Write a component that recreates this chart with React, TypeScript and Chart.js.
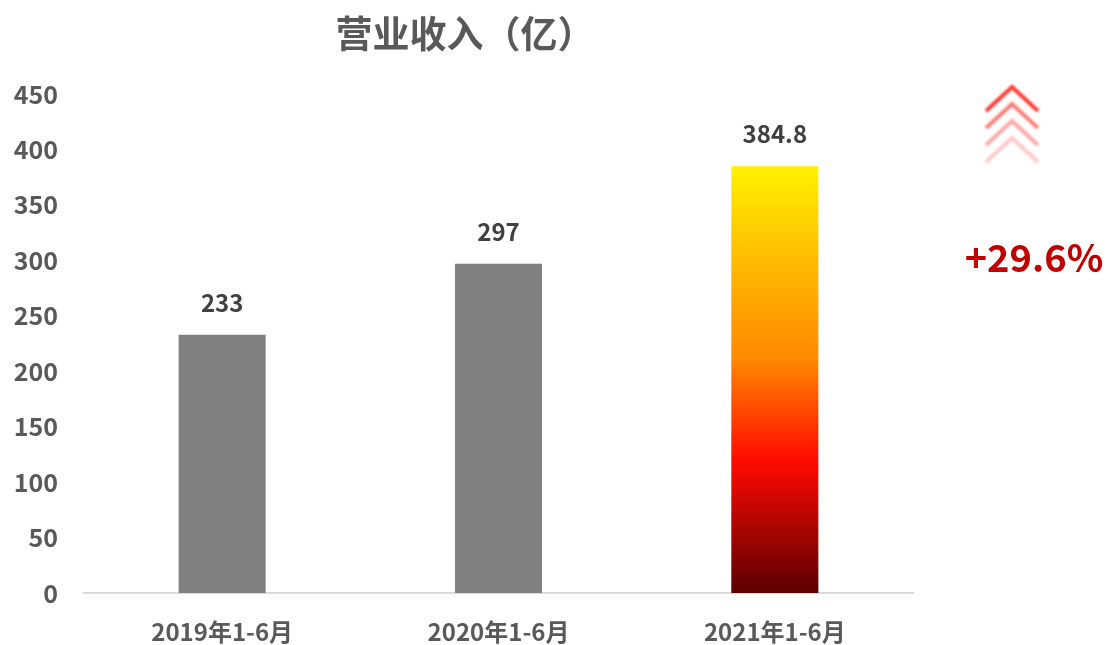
import React, { useEffect, useRef } from "react";
import { Chart, registerables } from "chart.js";

Chart.register(...registerables);

const categories = ["2019年1-6月", "2020年1-6月", "2021年1-6月"];
const revenue = [233, 297, 384.8];
const valueLabels = ["233", "297", "384.8"];
const titleText = "营业收入（亿）";
const growthText = "+29.6%";
const yTicks = [0, 50, 100, 150, 200, 250, 300, 350, 400, 450];

const FONT = '"Noto Sans CJK SC", "Noto Sans", sans-serif';

export default function App() {
  const ref = useRef<HTMLCanvasElement>(null);

  useEffect(() => {
    const canvas = ref.current!;
    const overlay = {
      id: "overlay",
      afterDatasetsDraw(chart: any) {
        const ctx = chart.ctx;
        const meta = chart.getDatasetMeta(0);
        ctx.save();
        ctx.font = `bold 24px ${FONT}`;
        ctx.fillStyle = "#404040";
        ctx.textAlign = "center";
        ctx.textBaseline = "middle";
        meta.data.forEach((bar: any, i: number) => {
          ctx.fillText(valueLabels[i], bar.x, bar.y - 32);
        });
        // title
        ctx.font = `bold 37px ${FONT}`;
        ctx.fillStyle = "#595959";
        ctx.fillText(titleText, 465, 34);
        // growth
        ctx.font = `bold 38px ${FONT}`;
        ctx.fillStyle = "#c00000";
        ctx.fillText(growthText, 1034, 258);
        // chevrons
        const alphas = [0.9, 0.6, 0.4, 0.25];
        ctx.lineWidth = 4;
        ctx.lineCap = "butt";
        ctx.lineJoin = "miter";
        (ctx as any).filter = "blur(0.8px)";
        alphas.forEach((a, k) => {
          const ay = 87 + k * 17;
          ctx.strokeStyle = `rgba(255,40,30,${a})`;
          ctx.beginPath();
          ctx.moveTo(986, ay + 24);
          ctx.lineTo(1012, ay);
          ctx.lineTo(1038, ay + 24);
          ctx.stroke();
        });
        (ctx as any).filter = "none";
        ctx.restore();
      },
    };

    const chart = new Chart(canvas, {
      type: "bar",
      data: {
        labels: categories,
        datasets: [
          {
            data: revenue,
            barPercentage: 0.315,
            categoryPercentage: 1,
            backgroundColor: (c: any) => {
              const ch = c.chart;
              const area = ch.chartArea;
              if (c.dataIndex !== 2 || !area) return "#808080";
              const ys = ch.scales.y;
              const top = ys.getPixelForValue(revenue[2]);
              const bottom = ys.getPixelForValue(0);
              const g = ch.ctx.createLinearGradient(0, top, 0, bottom);
              g.addColorStop(0, "#fff200");
              g.addColorStop(0.25, "#ffb400");
              g.addColorStop(0.45, "#ff8a00");
              g.addColorStop(0.69, "#ff0a00");
              g.addColorStop(1, "#5a0000");
              return g;
            },
          },
        ],
      },
      options: {
        responsive: false,
        animation: false,
        layout: { padding: { top: 94, right: 199, left: 0, bottom: 0 } },
        plugins: { legend: { display: false }, tooltip: { enabled: false }, title: { display: false } },
        scales: {
          x: {
            grid: { display: false, drawTicks: false },
            border: { display: true, color: "#d9d9d9", width: 2 },
            ticks: { font: { family: FONT, size: 24, weight: "bold" }, color: "#595959", padding: 24 },
            afterFit: (s: any) => { s.height = 52; },
          },
          y: {
            min: 0,
            max: 450,
            afterBuildTicks: (s: any) => { s.ticks = yTicks.map((v) => ({ value: v })); },
            grid: { display: false, drawTicks: false },
            border: { display: false },
            ticks: { font: { family: FONT, size: 25, weight: "bold" }, color: "#595959", padding: 26 },
            afterFit: (s: any) => { s.width = 84; },
          },
        },
      },
      plugins: [overlay],
    } as any);
    return () => chart.destroy();
  }, []);

  return (
    <div style={{ position: "absolute", left: 0, top: 0, width: 1112, height: 645, background: "#fff" }}>
      <canvas ref={ref} width={1112} height={645} style={{ display: "block" }} />
    </div>
  );
}
